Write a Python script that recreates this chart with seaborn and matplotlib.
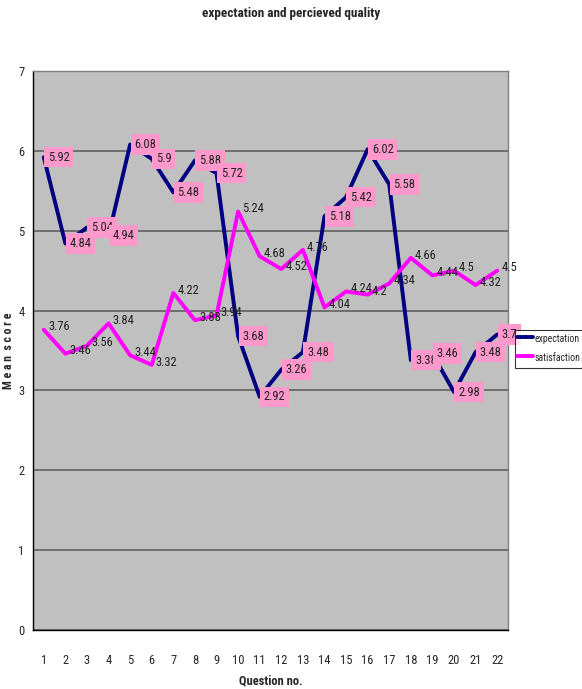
import matplotlib
matplotlib.use("Agg")
import matplotlib.pyplot as plt
from matplotlib import font_manager
import numpy as np
import pandas as pd
import seaborn as sns

questions = list(range(1, 23))
expectation = [5.92, 4.84, 5.04, 4.94, 6.08, 5.9, 5.48, 5.88, 5.72, 3.68, 2.92,
               3.26, 3.48, 5.18, 5.42, 6.02, 5.58, 3.38, 3.46, 2.98, 3.48, 3.7]
satisfaction = [3.76, 3.46, 3.56, 3.84, 3.44, 3.32, 4.22, 3.88, 3.94, 5.24, 4.68,
                4.52, 4.76, 4.04, 4.24, 4.2, 4.34, 4.66, 4.44, 4.5, 4.32, 4.5]
series_names = ["expectation", "satisfaction"]
series_colors = ["#000080", "#FF00FF"]
y_ticks = list(range(0, 8))

sns.set_style("white")
available = {f.name for f in font_manager.fontManager.ttflist}
family = [f for f in ["Roboto Condensed", "Liberation Sans", "DejaVu Sans"] if f in available]
plt.rcParams["font.family"] = family

df = pd.DataFrame({
    "question": questions * 2,
    "score": expectation + satisfaction,
    "series": [series_names[0]] * len(questions) + [series_names[1]] * len(questions),
})

fig = plt.figure(figsize=(5.82, 6.89), dpi=100)
ax = fig.add_axes([33 / 582, 1 - 630 / 689, 475 / 582, 559 / 689])
ax.set_facecolor("#C0C0C0")

sns.lineplot(data=df, x="question", y="score", hue="series",
             palette=dict(zip(series_names, series_colors)),
             linewidth=2.8, ax=ax, legend=False, zorder=3)

# value labels: boxed for expectation, plain for satisfaction
for q, v in zip(questions, expectation):
    ax.annotate(f"{v:g}", (q, v), xytext=(3, 0), textcoords="offset points",
                ha="left", va="center", fontsize=9, color="#202020", zorder=5,
                bbox=dict(boxstyle="square,pad=0.3", fc="#FF99CC", ec="none"))
for q, v in zip(questions, satisfaction):
    ax.annotate(f"{v:g}", (q, v), xytext=(3, 2), textcoords="offset points",
                ha="left", va="center", fontsize=9, color="#202020", zorder=5)

ax.set_xlim(0.5, 22.5)
ax.set_ylim(0, 7)
ax.set_yticks(y_ticks)
ax.set_yticklabels([str(t) for t in y_ticks], fontsize=9)
ax.set_xticks(questions)
ax.set_xticklabels([str(q) for q in questions], fontsize=9)
ax.set_xticks(np.arange(0.5, 23, 1), minor=True)
ax.tick_params(axis="x", which="major", length=0, pad=17)
ax.tick_params(axis="x", which="minor", length=4, width=1, color="black", direction="out")
ax.tick_params(axis="y", which="major", length=4, width=1, color="black", direction="out", pad=2)
ax.grid(axis="y", color="#606060", linewidth=1.2, zorder=1)
ax.grid(axis="x", visible=False)
ax.set_axisbelow(True)

for side in ["top", "right"]:
    ax.spines[side].set_color("#808080")
    ax.spines[side].set_linewidth(1)
for side in ["left", "bottom"]:
    ax.spines[side].set_color("black")
    ax.spines[side].set_linewidth(1)

ax.set_xlabel("Question no.", fontsize=9, fontweight="bold", labelpad=6)
ax.set_ylabel("M e a n  s c o r e", fontsize=8.5, fontweight="bold")
ax.yaxis.set_label_coords(-0.037, 0.5)
fig.text(0.5, 1 - 14 / 689, "expectation and percieved quality", ha="center",
         va="center", fontsize=9.5, fontweight="bold")

handles = [plt.Line2D([], [], color=c, linewidth=2.8) for c in series_colors]
leg = fig.legend(handles, series_names, loc="upper left",
                 bbox_to_anchor=(515 / 582, 1 - 330 / 689), fontsize=7,
                 frameon=True, fancybox=False, edgecolor="black",
                 handlelength=1.7, handleheight=1.9, handletextpad=0.15,
                 borderpad=0.2, labelspacing=0.5, borderaxespad=0)
leg.get_frame().set_linewidth(0.8)

fig.savefig("out.png", dpi=100)
